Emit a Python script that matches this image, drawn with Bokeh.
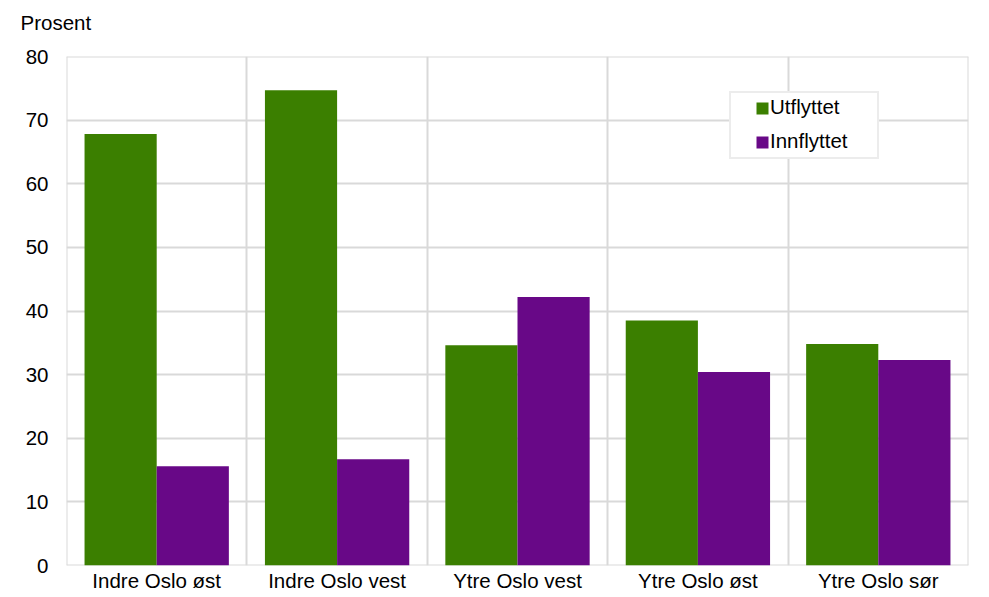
from bokeh.plotting import figure
from bokeh.models import FixedTicker, Legend, LegendItem, ColumnDataSource, Span
from bokeh.embed import file_html
from bokeh.resources import INLINE

categories = ["Indre Oslo øst", "Indre Oslo vest", "Ytre Oslo vest", "Ytre Oslo øst", "Ytre Oslo sør"]
utflyttet = [67.8, 74.7, 34.6, 38.5, 34.8]
innflyttet = [15.6, 16.7, 42.2, 30.4, 32.3]
y_ticks = [0, 10, 20, 30, 40, 50, 60, 70, 80]
series_names = ["Utflyttet", "Innflyttet"]
y_title = "Prosent"

GREEN = "#3b7f00"
PURPLE = "#680887"
GRID = "#d9d9d9"
FONT = "Liberation Sans"
FS = "20.5px"

n = len(categories)
centers = [i + 0.5 for i in range(n)]
bw = 0.4
src = ColumnDataSource(dict(
    x_ut=[c - bw / 2 for c in centers],
    x_inn=[c + bw / 2 for c in centers],
    ut=utflyttet,
    inn=innflyttet,
))

p = figure(frame_width=902, frame_height=509, x_range=(0, n), y_range=(0, 80),
           output_backend="svg", toolbar_location=None,
           min_border_left=66, min_border_right=15, min_border_top=56, min_border_bottom=28)

# boundary grid lines (Bokeh's grid skips the range edges)
for loc in (0, n):
    p.add_layout(Span(location=loc, dimension="height", line_color=GRID, line_width=2, level="underlay"))
for loc in (y_ticks[0], y_ticks[-1]):
    p.add_layout(Span(location=loc, dimension="width", line_color=GRID, line_width=2, level="underlay"))

p.vbar(x="x_ut", top="ut", bottom=0, width=bw, source=src, fill_color=GREEN, line_color=None)
p.vbar(x="x_inn", top="inn", bottom=0, width=bw, source=src, fill_color=PURPLE, line_color=None)

# legend markers (size 0 in the plot; legend draws them at 0.4 * glyph box)
m1 = p.scatter(x="x_ut", y="ut", source=src, marker="square", size=0, fill_color=GREEN, line_color=None)
m2 = p.scatter(x="x_inn", y="inn", source=src, marker="square", size=0, fill_color=PURPLE, line_color=None)
# empty renderer for text-only legend
blank = p.line(x=[], y=[], line_alpha=0)

legend_box = Legend(items=[LegendItem(label=" ", renderers=[m1]),
                           LegendItem(label=" ", renderers=[m2])],
                    location=(663, 406), padding=0, spacing=4, margin=0,
                    glyph_width=62, glyph_height=30, label_standoff=0, label_width=84,
                    label_height=20, label_text_font_size="1px",
                    border_line_color=GRID, border_line_width=2, background_fill_color="white",
                    background_fill_alpha=1.0)
p.add_layout(legend_box)

legend_text = Legend(items=[LegendItem(label=series_names[0], renderers=[blank]),
                            LegendItem(label=series_names[1], renderers=[blank])],
                     location=(703, 412), padding=0, spacing=10, margin=0,
                     glyph_width=1, glyph_height=24, label_height=24, label_standoff=0,
                     label_text_font=FONT, label_text_font_size=FS, label_text_color="#000000",
                     border_line_color=None, background_fill_alpha=0)
p.add_layout(legend_text)

# "Prosent" title; a blank second line lifts it to the top of the canvas
p.title.text = y_title + "\n "
p.title.align = "left"
p.title.offset = -46
p.title.text_font = FONT
p.title.text_font_size = FS
p.title.text_font_style = "normal"
p.title.text_color = "#000000"
p.title.standoff = 0

p.outline_line_color = None
p.xgrid.ticker = FixedTicker(ticks=list(range(n + 1)))
p.ygrid.ticker = FixedTicker(ticks=y_ticks)
for g in (p.xgrid, p.ygrid):
    g.grid_line_color = GRID
    g.grid_line_width = 2

p.xaxis.ticker = FixedTicker(ticks=centers)
p.xaxis.major_label_overrides = {c: name for c, name in zip(centers, categories)}
p.yaxis.ticker = FixedTicker(ticks=y_ticks)
for ax in (p.xaxis, p.yaxis):
    ax.axis_line_color = None
    ax.major_tick_line_color = None
    ax.minor_tick_line_color = None
    ax.major_tick_out = 0
    ax.major_tick_in = 0
    ax.minor_tick_out = 0
    ax.minor_tick_in = 0
    ax.major_label_text_font = FONT
    ax.major_label_text_font_size = FS
    ax.major_label_text_color = "#000000"
p.xaxis.major_label_standoff = 3
p.yaxis.major_label_standoff = 18

open("out.html", "w").write(file_html(p, INLINE))
